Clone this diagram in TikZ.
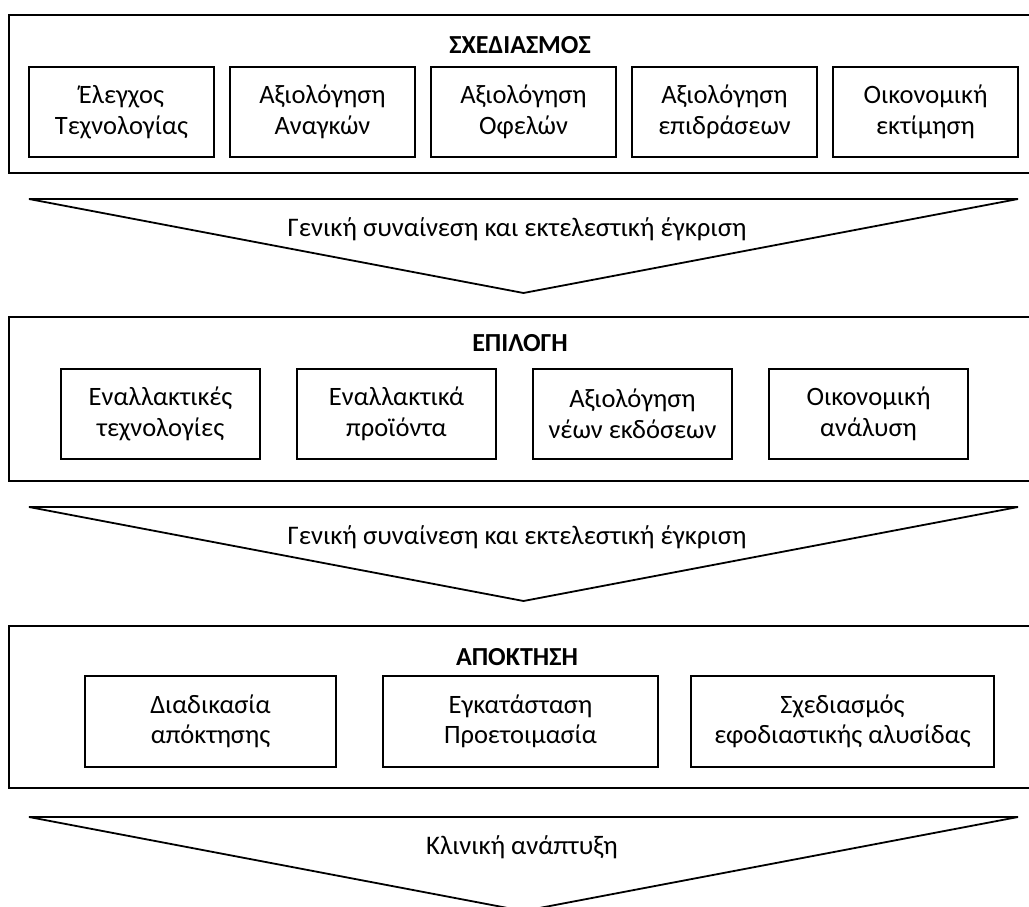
\documentclass[tikz,border=0pt]{standalone}
\usepackage{fontspec}
\setmainfont{Carlito}
\begin{document}
\begin{tikzpicture}[x=1pt,y=-1pt,
  frame/.style={draw, line width=1.8pt},
  item/.style={draw, line width=1.6pt, align=center, inner sep=0pt,
    font=\fontsize{26.5}{30.5}\selectfont},
  stagetitle/.style={anchor=base, font=\fontsize{26}{30}\selectfont\bfseries},
  chevron/.style={draw, line width=1.8pt, line join=miter},
  flowlabel/.style={anchor=base, font=\fontsize{26.8}{30}\selectfont}]
\useasboundingbox (0,0) rectangle (1029,906);
\clip (0,0) rectangle (1029,906);

% Stage 1: planning
\draw[frame] (9,15) rectangle (1040,173);
\node[stagetitle] (plan) at (520,53) {ΣΧΕΔΙΑΣΜΟΣ};
\begin{scope}[every node/.style={item, minimum width=185pt, minimum height=90pt}]
  \node (p1) at (121.5,112) {Έλεγχος\\Τεχνολογίας};
  \node (p2) at (322.5,112) {Αξιολόγηση\\Αναγκών};
  \node (p3) at (523.5,112) {Αξιολόγηση\\Οφελών};
  \node (p4) at (724.5,112) {Αξιολόγηση\\επιδράσεων};
  \node (p5) at (925.5,112) {Οικονομική\\εκτίμηση};
\end{scope}

% Transition 1
\draw[chevron] (29,199) -- (1018,199) -- (523.5,293) -- cycle;
\node[flowlabel] (g1) at (517,236) {Γενική συναίνεση και εκτελεστική έγκριση};

% Stage 2: selection
\draw[frame] (9,317) rectangle (1040,481);
\node[stagetitle] (select) at (520,351) {ΕΠΙΛΟΓΗ};
\begin{scope}[every node/.style={item, minimum width=199pt, minimum height=90pt}]
  \node (e1) at (160.5,414) {Εναλλακτικές\\τεχνολογίες};
  \node (e2) at (396.5,414) {Εναλλακτικά\\προϊόντα};
  \node (e3) at (632.5,414) {Αξιολόγηση\\νέων εκδόσεων};
  \node (e4) at (868.5,414) {Οικονομική\\ανάλυση};
\end{scope}

% Transition 2
\draw[chevron] (29,507) -- (1018,507) -- (523.5,601) -- cycle;
\node[flowlabel] (g2) at (517,544) {Γενική συναίνεση και εκτελεστική έγκριση};

% Stage 3: acquisition
\draw[frame] (9,626) rectangle (1040,788);
\node[stagetitle] (acquire) at (517,665) {ΑΠΟΚΤΗΣΗ};
\begin{scope}[every node/.style={item, minimum height=91pt}]
  \node[minimum width=251pt] (a1) at (210.5,721.5) {Διαδικασία\\απόκτησης};
  \node[minimum width=275pt] (a2) at (520.5,721.5) {Εγκατάσταση\\Προετοιμασία};
  \node[minimum width=303pt] (a3) at (842.5,721.5) {Σχεδιασμός\\εφοδιαστικής αλυσίδας};
\end{scope}

% Transition 3
\draw[chevron] (29,817) -- (1018,817) -- (523.5,911) -- cycle;
\node[flowlabel] (g3) at (522,854) {Κλινική ανάπτυξη};
\end{tikzpicture}
\end{document}
